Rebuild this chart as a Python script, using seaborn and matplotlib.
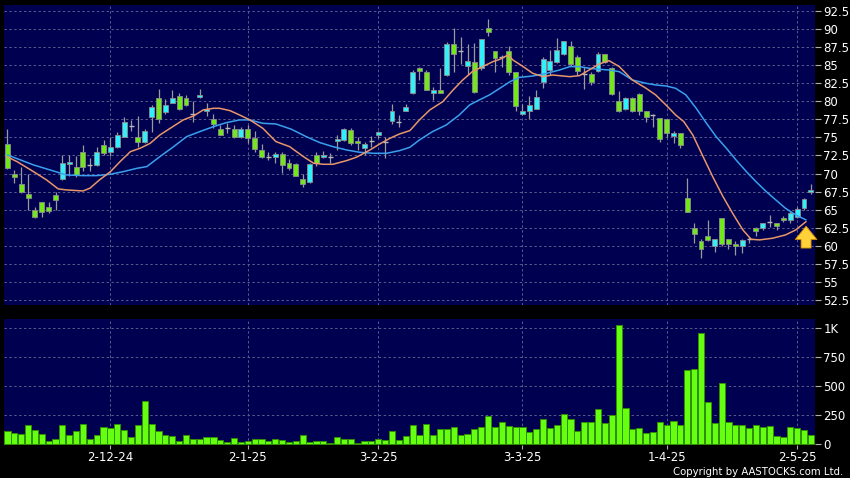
import matplotlib
matplotlib.use("Agg")
import matplotlib.pyplot as plt
import seaborn as sns
import numpy as np
import pandas as pd

# daily candles (HK$)
opens = [74.1, 70.0, 68.6, 67.1, 65.0, 66.0, 65.4, 67.0, 69.2, 71.3,
         70.9, 73.0, 71.2, 71.2, 74.0, 73.0, 73.7, 75.1, 76.6, 75.0,
         74.3, 77.8, 80.5, 78.5, 79.8, 80.8, 80.5, 78.3, 80.55, 78.6,
         77.6, 76.1, 76.3, 76.2, 75.0, 76.2, 74.9, 73.3, 72.3, 72.25,
         72.7, 71.5, 71.3, 69.3, 68.8, 72.5, 72.25, 72.35, 74.5, 74.7,
         76.0, 74.55, 73.6, 74.5, 75.3, 74.4, 77.3, 77.2, 78.7, 81.1,
         84.65, 84.1, 81.1, 81.6, 83.6, 88.0, 86.9, 84.9, 85.4, 84.6,
         90.2, 87.0, 86.1, 87.0, 84.0, 78.2, 78.6, 79.0, 82.7, 84.3,
         85.5, 86.55, 87.6, 86.1, 83.8, 83.8, 84.2, 86.55, 84.65, 80.0,
         79.0, 80.5, 81.0, 78.6, 78.05, 77.65, 77.55, 75.2, 75.6, 66.6,
         62.5, 60.7, 61.3, 60.0, 63.8, 60.9, 60.25, 59.9, 60.9, 62.4,
         62.4, 63.3, 63.1, 63.85, 63.55, 64.05, 65.2, 67.4]
highs = [76.1, 70.5, 70.9, 70.0, 65.4, 66.1, 66.0, 67.5, 72.6, 72.6,
         72.4, 73.9, 72.1, 73.7, 74.6, 75.0, 75.8, 77.8, 77.4, 77.9,
         76.1, 79.5, 81.7, 80.3, 81.6, 81.1, 80.9, 80.0, 81.7, 79.7,
         78.3, 76.7, 77.0, 76.7, 76.5, 76.7, 75.9, 74.1, 73.0, 73.0,
         73.0, 72.0, 71.4, 69.9, 71.4, 73.0, 73.1, 72.8, 75.3, 76.3,
         76.3, 75.1, 74.4, 75.2, 75.9, 75.1, 79.6, 78.1, 79.6, 84.4,
         84.8, 84.4, 82.0, 84.6, 88.2, 90.2, 88.9, 88.0, 88.1, 88.6,
         91.4, 87.0, 86.4, 87.6, 84.0, 79.6, 80.8, 81.6, 86.2, 87.1,
         88.7, 88.3, 88.3, 86.4, 84.8, 84.1, 86.8, 86.6, 84.8, 81.4,
         80.6, 80.6, 81.1, 78.6, 78.3, 77.65, 77.55, 75.95, 75.6, 69.4,
         63.1, 61.0, 63.6, 60.9, 63.8, 61.0, 60.6, 61.0, 61.2, 62.6,
         63.2, 64.2, 63.2, 64.1, 64.8, 65.4, 66.6, 68.5]
lows = [70.6, 68.7, 67.3, 65.0, 63.9, 64.0, 64.5, 64.9, 69.1, 69.6,
        69.5, 70.4, 70.4, 71.0, 72.5, 72.4, 73.5, 75.0, 75.9, 73.7,
        74.2, 75.8, 77.0, 78.3, 79.7, 78.8, 79.3, 77.2, 80.5, 77.9,
        76.3, 75.3, 75.6, 74.9, 74.9, 74.2, 73.0, 72.2, 71.9, 71.4,
        70.1, 70.5, 69.6, 68.1, 68.7, 71.1, 72.1, 71.4, 73.3, 74.5,
        74.0, 73.3, 72.5, 73.7, 74.9, 72.1, 76.8, 76.5, 78.6, 81.0,
        83.0, 81.5, 80.2, 81.1, 83.5, 84.0, 85.1, 83.6, 81.2, 84.4,
        89.0, 84.1, 84.8, 83.7, 78.6, 78.1, 77.6, 78.9, 81.8, 83.6,
        85.3, 86.4, 84.9, 83.6, 81.7, 82.2, 84.0, 85.3, 80.9, 78.5,
        78.8, 78.5, 78.1, 77.1, 76.5, 74.3, 75.0, 74.2, 73.5, 64.7,
        60.4, 58.3, 60.6, 59.2, 59.9, 59.6, 58.7, 59.0, 60.4, 61.4,
        62.2, 62.6, 62.2, 63.35, 63.1, 63.9, 65.0, 67.2]
closes = [70.8, 69.5, 67.4, 66.6, 64.0, 64.7, 64.8, 66.3, 71.4, 71.6,
          69.8, 70.9, 71.2, 73.0, 72.9, 73.7, 75.3, 77.2, 76.6, 74.3,
          75.9, 79.2, 77.6, 79.5, 80.5, 78.9, 79.5, 78.3, 80.9, 79.0,
          76.9, 75.4, 76.3, 75.0, 76.2, 74.9, 73.4, 72.3, 72.3, 72.7,
          71.2, 70.7, 69.7, 68.6, 71.3, 71.4, 72.6, 72.35, 74.8, 76.1,
          74.2, 74.2, 74.1, 74.5, 75.7, 74.4, 78.6, 77.2, 79.2, 84.1,
          84.2, 81.6, 81.6, 81.2, 87.9, 86.6, 86.9, 85.6, 81.3, 88.6,
          89.6, 86.0, 86.1, 84.1, 79.4, 78.7, 79.5, 80.55, 85.85, 85.6,
          87.1, 88.3, 85.2, 84.2, 83.8, 82.7, 86.6, 85.5, 81.0, 78.6,
          80.5, 78.7, 78.65, 77.8, 78.05, 74.75, 75.6, 75.6, 74.0, 64.7,
          61.6, 59.6, 60.8, 60.9, 60.3, 60.3, 60.0, 60.8, 60.9, 62.0,
          63.1, 63.3, 62.8, 63.5, 64.6, 65.05, 66.5, 67.7]

# volume, thousand shares
volume_k = [108, 90, 87, 157, 122, 81, 23, 38, 157, 76,
            108, 166, 44, 73, 145, 137, 166, 122, 61, 160,
            369, 174, 105, 78, 64, 26, 78, 41, 41, 55,
            55, 35, 15, 52, 12, 23, 38, 38, 26, 38,
            35, 12, 23, 78, 17, 26, 26, 9, 55, 44,
            44, 9, 26, 26, 38, 29, 110, 29, 64, 157,
            73, 166, 78, 125, 128, 148, 73, 81, 125, 142,
            238, 142, 186, 151, 140, 140, 99, 128, 212, 137,
            160, 256, 209, 108, 183, 183, 297, 180, 247, 1032,
            311, 125, 134, 90, 99, 183, 160, 192, 160, 640,
            645, 959, 358, 177, 526, 186, 163, 163, 137, 157,
            140, 151, 70, 55, 148, 134, 122, 76]

# moving averages (candle index, price)
ma10_at = [0, 1.4, 3.8, 5.7, 7.4, 8.6, 11.0, 12.0, 13.4, 15.0, 16.4, 17.9, 19.3,
           20.8, 22.2, 23.7, 25.6, 27.1, 28.5, 30.0, 30.9, 32.4, 33.8, 35.3, 37.2,
           39.1, 41.1, 43.1, 44.6, 46.0, 47.4, 49.4, 50.8, 52.8, 54.2, 55.7, 57.1,
           58.6, 60.0, 61.5, 63.4, 64.9, 66.3, 67.7, 69.2, 70.7, 71.7, 72.9, 73.6,
           75.1, 76.5, 78.0, 79.4, 80.9, 81.9, 83.3, 84.7, 86.2, 87.6, 89.1, 91.0,
           93.0, 94.4, 95.9, 97.3, 98.5, 99.8, 101.3, 102.7, 104.2, 105.6, 107.1,
           108.3, 109.5, 111.4, 113.3, 114.8, 116.3]
ma10 = [72.3, 71.65, 70.26, 69.11, 67.87, 67.73, 67.59, 67.96, 69.11, 70.26, 71.65,
        73.03, 73.49, 74.19, 75.34, 76.26, 77.42, 77.97, 78.8, 79.03, 79.03, 78.71,
        78.11, 77.42, 76.26, 74.42, 73.72, 72.34, 71.42, 71.28, 71.28, 71.79, 72.25,
        73.26, 74.09, 74.88, 75.48, 75.94, 77.42, 78.8, 79.95, 81.57, 82.95, 84.1,
        84.8, 85.49, 85.81, 86.41, 85.72, 84.8, 83.87, 83.41, 83.64, 83.5, 83.41,
        83.55, 84.33, 85.17, 85.63, 84.8, 82.95, 81.8, 80.88, 79.49, 78.11, 77.18,
        75.34, 72.34, 69.57, 66.81, 64.5, 62.19, 60.9, 60.81, 61.04, 61.5, 62.19,
        63.35]
ma20_at = [0, 1.9, 3.8, 6.2, 8.6, 11.0, 13.0, 15.0, 16.9, 18.9, 20.3, 22.2, 24.2,
           26.1, 28.0, 30.0, 31.9, 33.8, 35.3, 37.2, 39.1, 41.3, 43.5, 45.5, 47.4,
           49.4, 51.3, 53.3, 55.2, 57.1, 58.6, 60.0, 61.9, 63.9, 65.8, 67.3, 68.7,
           70.2, 71.7, 73.2, 74.6, 76.5, 78.5, 80.4, 81.9, 83.3, 84.7, 86.2, 87.6,
           89.1, 91.0, 93.0, 94.4, 95.9, 97.3, 98.8, 100.3, 101.8, 103.2, 104.7,
           106.1, 107.6, 109.0, 110.5, 111.9, 113.3, 114.8, 116.3]
ma20 = [72.57, 71.88, 71.19, 70.5, 69.8, 69.71, 69.71, 69.9, 70.27, 70.73, 70.96,
        72.34, 73.72, 75.11, 75.8, 76.49, 77.05, 77.42, 77.42, 76.95, 76.86, 76.15,
        75.11, 74.28, 73.72, 73.26, 72.94, 72.8, 72.8, 73.17, 73.63, 74.65, 75.8,
        76.72, 78.11, 79.49, 80.18, 80.88, 81.8, 82.72, 83.32, 83.5, 83.87, 84.33,
        84.8, 84.8, 84.57, 84.43, 84.33, 84.1, 82.95, 82.49, 82.26, 82.12, 81.8,
        80.88, 79.03, 76.95, 75.11, 73.49, 71.88, 70.27, 68.88, 67.5, 66.34, 65.19,
        64.27, 63.58]

date_tick_at = [15, 35, 54, 75, 96, 115]
date_tick_labels = ["2-12-24", "2-1-25", "3-2-25", "3-3-25", "1-4-25", "2-5-25"]
price_ticks = [52.5, 55, 57.5, 60, 62.5, 65, 67.5, 70, 72.5, 75, 77.5, 80,
               82.5, 85, 87.5, 90, 92.5]
price_labels = ["52.5", "55", "57.5", "60", "62.5", "65", "67.5", "70", "72.5",
                "75", "77.5", "80", "82.5", "85", "87.5", "90", "92.5"]
vol_ticks = [0, 250, 500, 750, 1000]
vol_labels = ["0", "250", "500", "750", "1K"]

df = pd.DataFrame({"open": opens, "high": highs, "low": lows,
                   "close": closes, "vol": volume_k})
df["i"] = np.arange(len(df))

NAVY = "#000050"
UP = "#2ff0fb"
DOWN = "#72e81c"
GRID = "#5a5a8c"

sns.set_theme(style="dark", rc={"axes.facecolor": NAVY, "figure.facecolor": "black"})
plt.rcParams["font.family"] = ["DejaVu Sans"]

W, H = 850, 478
fig = plt.figure(figsize=(W / 100, H / 100), dpi=100, facecolor="black")
ax = fig.add_axes([4 / W, 1 - 305 / H, 811 / W, 300 / H])
axv = fig.add_axes([4 / W, 1 - 444.5 / H, 811 / W, 126 / H])

for a in (ax, axv):
    a.set_facecolor(NAVY)
    for s in a.spines.values():
        s.set_visible(False)
    a.set_xlim(-0.5, len(df) - 0.4)
    a.set_xticks(date_tick_at)
    a.grid(True, color=GRID, linestyle=(0, (2.5, 2.5)), linewidth=0.7)
    a.yaxis.tick_right()
    a.tick_params(axis="y", colors="#b0b0b0", labelcolor="white", length=4,
                  width=0.8, pad=2, labelsize=8.5, right=True, left=False)
    a.set_xlabel("")
    a.set_ylabel("")

# price panel
ax.set_ylim(51.8, 93.33)
ax.set_yticks(price_ticks)
ax.set_yticklabels(price_labels)
ax.tick_params(axis="x", bottom=False, labelbottom=False)

up = df["close"] > df["open"]
flat = (df["close"] - df["open"]).abs() < 0.08
ax.vlines(df["i"], df["low"], df["high"], color="#9a9a9a", linewidth=0.9, zorder=2)
body = df[~flat]
ax.bar(body["i"], (body["close"] - body["open"]).abs(),
       bottom=body[["open", "close"]].min(axis=1), width=0.72,
       color=np.where(up[~flat], UP, DOWN), edgecolor="#8c8c8c",
       linewidth=0.6, zorder=3)
dj = df[flat]
ax.hlines(dj["open"], dj["i"] - 0.36, dj["i"] + 0.36, color="#b8b8b8",
          linewidth=1.0, zorder=3)

sns.lineplot(x=ma20_at, y=ma20, ax=ax, color="#3aa0ee", linewidth=1.1,
             zorder=4, sort=False)
sns.lineplot(x=ma10_at, y=ma10, ax=ax, color="#e8966a", linewidth=1.1,
             zorder=4, sort=False)
ax.set_xlabel("")
ax.set_ylabel("")

# yellow signal arrow under the MA crossover
ax.annotate("", xy=(116.3, 63.1), xytext=(116.3, 59.3),
            arrowprops=dict(arrowstyle="simple,head_width=1.3,head_length=0.8,tail_width=0.6",
                            fc="#ffd23a", ec="#d08a00", lw=0.6), zorder=5)

# volume panel
axv.set_ylim(-8, 1085)
axv.set_yticks(vol_ticks)
axv.set_yticklabels(vol_labels)
sns.barplot(data=df, x="i", y="vol", native_scale=True, ax=axv, color="#66ff11",
            saturation=1, width=0.9, edgecolor="#2f8f00", linewidth=0.7, zorder=3)
axv.set_xlim(-0.5, len(df) - 0.4)
axv.set_xticks(date_tick_at)
axv.set_xticklabels(date_tick_labels)
axv.tick_params(axis="x", colors="#b0b0b0", labelcolor="white", length=3,
                width=0.8, pad=2, labelsize=8.5, bottom=True)
axv.set_xlabel("")
axv.set_ylabel("")

fig.text(843 / W, 1 - 472 / H, "Copyright by AASTOCKS.com Ltd.", color="white",
         fontsize=7.3, ha="right", va="center")

fig.savefig("out.png", dpi=100, facecolor="black")
